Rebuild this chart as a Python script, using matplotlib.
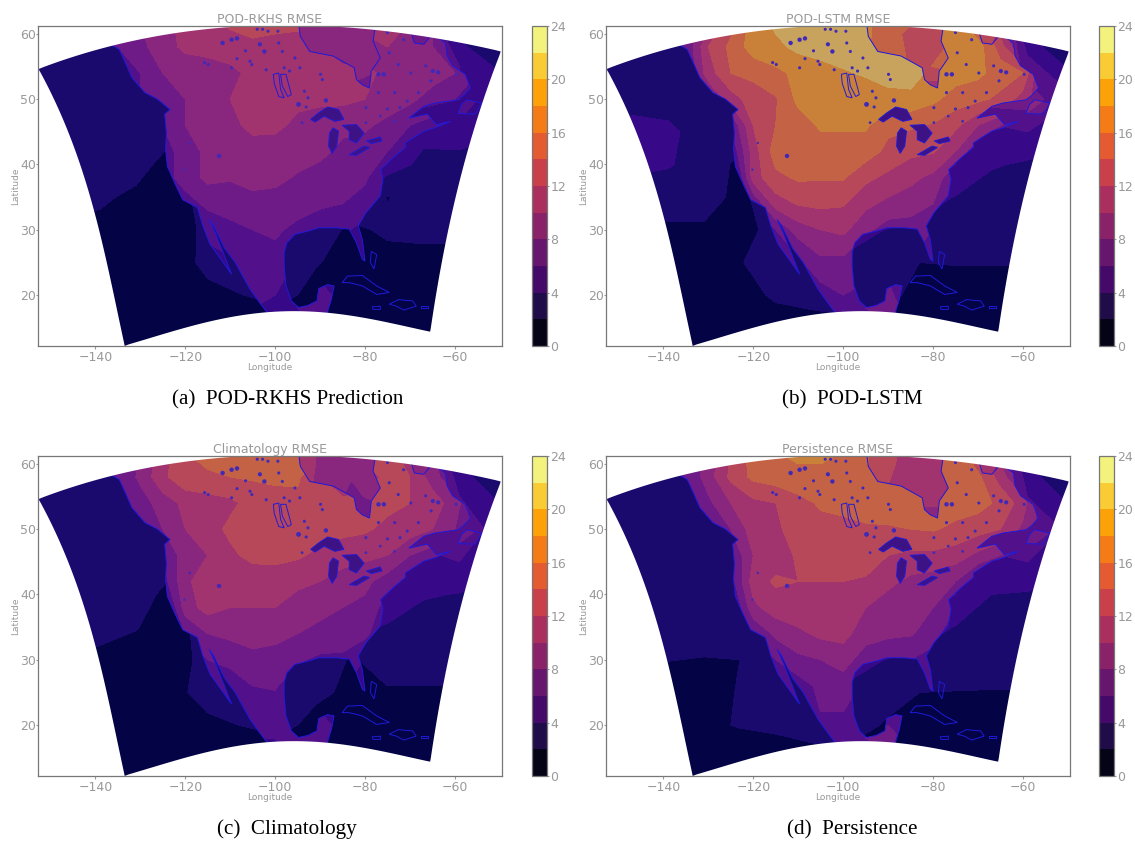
import numpy as np
import matplotlib
matplotlib.use("Agg")
import matplotlib.pyplot as plt
from matplotlib.path import Path
from matplotlib.patches import PathPatch, Polygon
from matplotlib.colors import BoundaryNorm, ListedColormap
from matplotlib.cm import ScalarMappable

TITLES = ["POD-RKHS RMSE", "POD-LSTM RMSE", "Climatology RMSE", "Persistence RMSE"]
CAPTIONS = ["(a)  POD-RKHS Prediction", "(b)  POD-LSTM", "(c)  Climatology", "(d)  Persistence"]
LEVELS = list(range(0, 26, 2))
CBAR_TICKS = [0, 4, 8, 12, 16, 20, 24]
X_TICKS = [-140, -120, -100, -80, -60]
Y_TICKS = [20, 30, 40, 50, 60]

LAND_LON = [-140,-135,-130,-125,-120,-115,-110,-105,-100,-95,-90,-85,-80,-75,-70,-65,-60,-55,-50]
LAND_LAT = [62,58,54,50,46,42,38,34,30,26,22,18,14]
WATER_LON = [-155,-147,-139,-131,-123,-115,-107,-99,-91,-83,-75,-67,-59,-48]
WATER_LAT = [65,60,55,50,45,40,35,30,25,20,15,10]

RKHS_LAND = [
 [9,9,10,11,13,13.5,14.5,15,15,15,15,11,13,12.5,12,10,8,6,4],
 [8,8,9.5,11,12.5,13,13,13.5,13,12.5,12,11,11,12,11.5,10,8,5,3],
 [8,8,8,10,10.5,10.5,11.5,12.5,12.5,12.5,12.5,12.5,12.5,11.5,11,11,10,8,4],
 [7,7,8,9,10,10.5,12,13,13,12.5,12.5,12.5,12,11,10.5,9,8,6,4],
 [6,6,7,8,10,10.5,11.5,12.5,12.5,11.5,10.8,10.5,10.3,9.5,8,7.5,6,4,4],
 [5,5,6,7,9,10.5,10.5,11.2,11,10.8,10.5,9.5,9.2,8,6,4.5,4,4,4],
 [5,5,5,7,9,10.5,10.2,10.8,10.5,9.8,9.2,8.8,8.2,6.5,5,4,4,4,4],
 [5,5,5,5,7,8.5,8.8,9.2,9.2,8.8,8.4,8,7.5,5,5,4,4,4,4],
 [5,5,5,5,6,6.5,7.5,8,8.3,7.5,6.5,6.5,5,5,4,4,4,4,4],
 [5,5,5,5,5,5.5,6,7,7.5,6,6,5,5,5,4,4,4,4,4],
 [5,5,5,5,5,5,5.5,6.5,6.5,5,6,6,5,4,4,4,4,4,4],
 [5,5,5,5,5,5,5.5,6,5.5,6,7,6,5,4,4,4,4,4,4],
 [5,5,5,5,5,5,5,5,5,5,6,5,5,4,4,4,4,4,4],
]
LSTM_LAND = [
 [9,9,11,15,19,20.5,21,21,21,21,21,17,19,18.5,15.5,12,10,6,4],
 [8,8,14,16.5,19,19.5,20.5,21,21,21,21,20.5,17,19,19,15,9,5,3],
 [8,8,13,16,16.5,17.5,18.5,19,19.8,20.2,20.6,20.8,19.5,19,18.5,17,16,8,4],
 [8,8,10,13,15,15.8,18.5,19,19,19,19.5,19.5,18.5,17,16.5,15.5,13,10,7],
 [6,6,7,8,14,16,17,18.3,18.3,18.3,16.5,16.3,15.8,14.5,12,10,8,5,4],
 [5,5,5,6,13,17,16,17,17,17,15.5,14.5,14.2,12,8,6,5,4,4],
 [5,5,5,3,13,15.5,16.3,16.2,16.2,14.5,13.5,12.5,11.5,8,6,5,4,4,4],
 [5,5,5,5,8,13,14.2,14.5,14.2,12.5,11.5,11,10,6,5,4,4,4,4],
 [5,5,5,5,6,8,11,12,12.5,10.5,9,9,8,6,5,4,4,4,4],
 [5,5,5,5,5,7,8,10,10,8,8,8,8,6,4,4,4,4,4],
 [5,5,5,5,5,6,7,8,9,8,8,7,6,4,4,4,4,4,4],
 [5,5,5,5,5,6,6,7,7,8,9,7,6,4,4,4,4,4,4],
 [5,5,5,5,5,5,6,6,6,7,7,6,5,4,4,4,4,4,4],
]
CLIM_LAND = [
 [9,9,10,13,16,16.5,17,17,17,17,17,13,15,14.5,13,10,8,6,4],
 [8,8,10.5,13.5,15.5,15.8,16,16.2,16.5,16.3,14,12.5,13,14.5,14,11,8,5,3],
 [8,8,9,11,12.5,13,13.5,14.8,15,15.5,15.5,14.5,14.5,14.5,14,13,11,7,4],
 [7,7,8,10,12,13,14.5,15,15,15,14.8,14.5,14.3,13.5,13,12,10,8,6],
 [6,6,6,8,11,12,13.5,14.7,14.7,14.3,13.5,13,12.5,12,10,9,7,5,4],
 [5,5,5,7,11.5,13.3,12.5,12.5,12.8,12.5,12,11,10.5,9,7,5.5,5,4,4],
 [5,5,5,4,11,12.8,12,12,12,11,10.3,10,9.5,7,5,4,4,4,4],
 [5,5,5,5,8,10,10.5,10.7,10.5,10,9.7,9.2,8.5,6,5,4,4,4,4],
 [5,5,5,5,6,8,8.5,9.5,9.3,8.3,7.5,7.5,6,5,4,4,4,4,4],
 [5,5,5,5,5,6,7,8,8.2,6.5,6,6,6,5,4,4,4,4,4],
 [5,5,5,5,5,6,6,7,7,6,6,6,5,4,4,4,4,4,4],
 [5,5,5,5,5,5,6,6,6,6.5,8,6,5,4,4,4,4,4,4],
 [5,5,5,5,5,5,5,5,5,6,6,5,5,4,4,4,4,4,4],
]
PERS_LAND = [
 [9,9,11,14,17,18,19,19,18,17.5,17.5,14,17,17,14,11,9,6,4],
 [8,8,11,14.5,16.5,17,17,17,17,17,16.5,15,16,17,16.5,13,9,5,3],
 [8,8,9.5,12,13.5,14,15.5,16.2,16.5,17,17,17,17,17,16.8,15.5,13,7,4],
 [7,7,8,10,13,13.5,15.2,15.5,15.5,15.7,15.8,16,16.2,15.5,14.8,14,11.5,9,6],
 [6,6,6,8,12,13,14.3,15.2,15.3,15.2,14,13.5,13.5,13,11.5,10,7.5,5,4],
 [5,5,5,7,13,14.3,14,14,14,13.7,12.5,11.5,11,10,7,5.5,5,4,4],
 [5,5,5,5,11.5,13,13.5,14,14,12,11,10.5,10,8,5,4,4,4,4],
 [5,5,5,5,8,10.5,11.5,12.5,12.7,10.8,10.5,10.2,9,6,5,4,4,4,4],
 [5,5,5,5,6,8,9.5,10,10.8,9,7.8,8,7,5,4,4,4,4,4],
 [5,5,5,5,5,6,7,8.5,9,7.5,7,7,7,5,4,4,4,4,4],
 [5,5,5,5,5,6,7,8,8,7,7,7,6,4,4,4,4,4,4],
 [5,5,5,5,5,6,6,7,7,8,9,7,5,4,4,4,4,4,4],
 [5,5,5,5,5,5,6,6,6,7,7,6,5,4,4,4,4,4,4],
]

RKHS_WATER = [
 [3,3,3,3,5,9,9,10,10.5,10.5,10,8,3.5,2.5],
 [3,3,3,3,6,9,9,10.5,11,11,11,9,3.5,3],
 [3,3,3,3,4,7,9,10.5,11,11,10,7,6,3],
 [3,3,3,3,3.3,6,8,10,9,9,7,6.5,6,4.5],
 [3,3,3,3,2.4,5,7,8,7,6,5,4.5,5,4],
 [3,3,3,2.7,1.2,3,5,6,6,5.5,5,3.5,3.2,3],
 [3,2.8,2.3,1.6,0.8,3,5,6,5.5,4,1.9,3,3,3],
 [1.5,1.5,1.5,0.8,0.6,2.6,4,4.5,3.2,1.5,2.4,2.6,2.6,2.6],
 [1,1,1,0.8,0.8,2.6,3.2,3,2.1,1.5,1.2,1.2,1.2,1.2],
 [.8,.8,.8,.8,.8,1.4,2,2.5,1.5,1,1,1,1,1],
 [.8,.8,.8,.8,.8,.8,.8,.8,.8,.8,.8,.8,.8,.8],
 [.8,.8,.8,.8,.8,.8,.8,.8,.8,.8,.8,.8,.8,.8],
]
LSTM_WATER = [
 [3,3,3,3,5,14,19,20,17,17,16,14,4,2.8],
 [3,3,3,3,6,14,19,20,17,15,16,15,4,2.8],
 [3,3,3,3,4.5,12,17,19,17,15.5,17,12,7,3],
 [3,3,3,3,3.2,8,12,14,12,12,10,9,9,6],
 [3,5,4.5,3,2.6,7,10,11,9,8,6,5,6,4.5],
 [3,4.5,4.2,3,1.6,4,6,8,8,7,6,4.2,3.7,3],
 [3,3,2.6,2.6,1.6,3,5,7,7,5,3.9,3,3,3],
 [1.8,1.8,1.8,1.8,1.1,2.8,5,6,4,3.5,3,2.8,2.8,2.8],
 [1,1,1,1,1.9,2.8,3.5,3,2.7,2,2.1,2.1,2.1,2.1],
 [.8,.8,.8,.8,1.2,2.3,2.4,2.8,2.6,1.4,1.1,1,1,1],
 [.8,.8,.8,.8,.8,1,1.5,1.5,1,.8,.8,.8,.8,.8],
 [.8,.8,.8,.8,.8,.8,.8,.8,.8,.8,.8,.8,.8,.8],
]
CLIM_WATER = [
 [3,3,3,3,5,13,16,16,12,11,11,10,4,3],
 [3,3,3,3,6,13,15,15,12,10.5,10.5,11,4,3],
 [3,3,3,3,4,11,14,15,11.5,9.5,11,9,6,3],
 [3,3,3,3,3.2,7,11,13,11,10,8,7.5,7,5],
 [3,3,3,3,2.5,6,9,10,9,7,5.5,5,6,4.8],
 [3,3,3,2.9,1.3,4,6,7,7,6,5.5,4.2,3.9,3],
 [3,3,2.5,2.1,1,3,5,6,6,4.5,3.8,3,3,3],
 [2,2,1.6,1.2,1,2.7,4,5,3.2,1.8,2.8,2.8,2.8,2.8],
 [1,1,1,1,1.6,2.5,3.3,3,2.3,1.7,1.8,1.8,1.8,1.8],
 [.8,.8,.8,.8,.9,1.7,2.05,2.5,1.5,1,1,1,1,1],
 [.8,.8,.8,.8,.8,.8,.8,.8,.8,.8,.8,.8,.8,.8],
 [.8,.8,.8,.8,.8,.8,.8,.8,.8,.8,.8,.8,.8,.8],
]
PERS_WATER = [
 [3,3,3,3,5,14,18,18,15,13,13,12,4,3],
 [3,3,3,3,6,14,18,18,14.5,13,13,13,4,3],
 [3,3,3,3,4,12,16,17,14,12.5,13,11,6,3],
 [3,3,3,3,3.2,8,12,14,12,11,9,8.5,8,5],
 [3,4,3,3,2.7,7,10,10,9,8,6,5,6,4.5],
 [3,4,3,3,2.4,4,6,8,8,7,6,4,3.8,3],
 [3,3,3,3,2.6,3.5,5,7,7,5,3.9,3,3,3],
 [2,2.05,2.05,1.9,2,3,4.5,6,4,3.5,3,3,3,3],
 [1,1,1,1.4,2.1,2.7,3.5,3,2.6,2,1.95,1.9,1.9,1.9],
 [.8,.8,.8,1.7,2.1,2.3,2.6,2.8,1.9,1,1,1,1,1],
 [.8,.8,.8,.8,1,1.2,1.5,1.5,1,.8,.8,.8,.8,.8],
 [.8,.8,.8,.8,.8,.8,.8,.8,.8,.8,.8,.8,.8,.8],
]

TOP_EDGE = [(-152.7,54.6),(-145.2,56.5),(-136.3,58.1),(-127.4,59.5),(-118.5,60.5),(-109.7,61.1),(-100.8,61.3),
 (-91.9,61.2),(-83,61),(-74.2,60.3),(-65.3,59.4),(-57.3,58.5),(-49.8,57.3)]
RIGHT_EDGE = [(-49.8,57.3),(-53.2,50.5),(-56.9,42.8),(-60.1,34.6),(-62.5,26),(-64.1,20.4),(-65.5,14.4)]
BOTTOM_EDGE = [(-65.5,14.4),(-76.6,16),(-84.7,17),(-94.4,17.6),(-101.2,17.4),(-111.3,16.4),(-121,14.7),(-127.4,13.7),(-133.5,12.2)]
LEFT_EDGE = [(-133.5,12.2),(-136,20.4),(-140.2,32.6),(-144.4,41.8),(-148.4,48.9),(-152.7,54.6)]

MAINLAND = [(-137.1,58.6),(-134.7,57.6),(-133.5,55.8),(-131.9,53.3),(-129,51),(-126.2,50),(-123.4,48.4),(-124.6,47.7),
 (-124.2,44.8),(-124.4,42.3),(-124,39.7),(-122.2,36.9),(-120.6,34.6),(-117.3,33.4),(-116.1,30.6),(-114.5,27.8),
 (-112.1,25.5),(-109.7,23.2),(-111.3,26),(-113.3,29.5),(-114.7,31.6),(-113.7,30.6),(-111.3,27.2),(-108.9,25),
 (-105.6,20.9),(-103.2,18.6),(-101.2,16.8),(-94.4,16.3),(-88.3,16.3),(-88.3,17.55),(-87.5,19.3),(-86.9,21.4),
 (-88.3,21.6),(-90.3,21),(-90.7,19.1),(-92.7,18.4),(-94.8,18.1),(-96.4,19.1),(-97.6,21.4),(-98,24.4),(-98,26.5),
 (-97.4,28),(-95.6,29.3),(-92.7,29.8),(-90.3,30.3),(-86.3,30.3),(-83.5,30.1),(-81.9,28),(-80.6,25.5),(-80,25.2),
 (-80.6,28.5),(-81.5,30.6),(-79.8,32.6),(-76.6,35.2),(-76,37.7),(-76.5,39.2),(-73.8,41),(-71,42.6),(-71,43.3),
 (-66.9,45.1),(-64.5,45.6),(-60.9,46.6),(-64.1,46.1),(-66.1,47.7),(-70.2,47.1),(-66.9,48.9),(-64.5,49.4),
 (-59.3,49.9),(-58.1,50.5),(-56.5,51.7),(-57.7,53.8),(-60.5,55.1),(-61.7,56.6),(-62.1,58.6),(-64.1,59.6),
 (-65.3,59.7),(-66.9,58.4),(-69,58.6),(-69.8,60.3),(-69.8,61.7),(-77.8,61.7),(-77.8,60.7),(-78.2,58.9),
 (-76.6,56.3),(-78.6,54.3),(-79,51.7),(-80.6,52.2),(-81.9,53),(-82.4,54.8),(-87.1,56.6),(-92.3,57.3),
 (-94.4,59.6),(-94.8,61.7),(-137.1,61.7)]
NEWFOUNDLAND = [(-57.3,49.9),(-54,49.4),(-55.5,47.7),(-59.3,47.8),(-58.5,49.2)]

GREAT_LAKES = [
 [(-92.1,46.9),(-90.3,47.9),(-88.3,48.8),(-85.9,48.4),(-84.7,46.9),(-86.7,46.6),(-89.1,47.4),(-91.1,46.5)],
 [(-87.1,45.6),(-85.9,45.1),(-86.3,42.8),(-87.3,41.7),(-88.1,42.8),(-87.9,44.8)],
 [(-85.1,46),(-81.9,46.1),(-80.2,44.8),(-81.9,43.3),(-83.5,43.8),(-83.5,45.1)],
 [(-83.5,41.5),(-80.2,42.8),(-79,42.6),(-81.9,41.4)],
 [(-79.7,43.6),(-76.6,44.2),(-76.2,43.6),(-78.6,43.2)],
]
OUTLINED = [
 [(-100.4,53.8),(-99.2,54),(-98.8,51.5),(-98,50.2),(-99.2,50.4),(-100.2,52.4)],
 [(-98.8,53.8),(-97.6,53.8),(-96.4,50.7),(-97.2,50.4),(-98.4,52)],
 [(-85.1,21.9),(-83.9,22.9),(-80.6,23),(-77.4,21.4),(-74.6,20.4),(-77.4,20.1),(-80.6,21.4),(-83.5,21.9)],
 [(-74.6,18.6),(-72.6,19.3),(-69.4,19.1),(-68.6,18.3),(-71.4,17.7),(-73,18.3)],
 [(-78.4,18.2),(-76.6,18.3),(-76.6,17.8),(-78.2,17.8)],
 [(-67.6,18.4),(-65.9,18.4),(-65.9,18),(-67.6,18)],
 [(-78.6,26.7),(-77.4,26.2),(-78,24),(-78.8,25)],
]
SMALL_LAKE_LON = [-111.7,-109.7,-108.5,-104,-102.8,-101.6,-99.4,-103.4,-102.4,-106.6,-108.5,-109.7,-105.6,-105.2,-115.7,-114.9,-102,-98,-96.8,-94.5,-89.9,-89.5,-93.5,-92.7,-94.8,-93.1,-88.7,-94,-77,-75.8,-74.6,-72.6,-69.8,-66.5,-64.9,-63.7,-65.3,-59.7,-73.4,-77,-79.8,-75,-72.2,-70.6,-68.1,-76.6,-73.4,-79.8,-112.5,-119,-120.2,-99.2,-98.4,-95.6,-71.4,-75]
SMALL_LAKE_LAT = [58.6,59.1,59.3,60.7,60.7,60.4,60.4,58.4,57.3,57.4,56.2,54.8,55.8,55.3,55.6,55.3,54.5,54.8,54.3,54.8,53.8,53,51.2,50.2,49.2,48.8,49.8,46.4,53.8,53.8,57.1,55.3,54,55.1,54.3,54.1,52.8,53.8,51,51,48.7,48.5,48.7,49.7,51,47.4,46.6,46.4,41.3,43.3,39.2,58.6,57.3,56.3,59.1,60.2]
SMALL_LAKE_SIZE = [10,10,10,5,5,5,5,9,10,5,5,5,5,5,5,5,5,5,5,5,5,5,5,5,12,5,10,4,10,10,5,5,5,5,9,9,5,5,5,5,5,5,5,5,5,4,4,4,10,3,3,5,5,5,5,5]

PANELS = [(RKHS_LAND, RKHS_WATER), (LSTM_LAND, LSTM_WATER), (CLIM_LAND, CLIM_WATER), (PERS_LAND, PERS_WATER)]

W, H = 1135, 846
GRAY = "#999999"
COAST = (0.12, 0.1, 0.85)
AX_X = [38, 606, 38, 606]
CB_X = [532, 1099, 532, 1099]
AX_TOP = [26, 26, 456, 456]
CAP_X = [288, 852, 287, 852]
CAP_Y = [399, 399, 829, 829]
AX_W, AX_H, CB_W = 464, 320, 15

colors = [plt.get_cmap("inferno")((LEVELS[i] + 1) / 24) for i in range(len(LEVELS) - 1)]
cmap = ListedColormap(colors)
norm = BoundaryNorm(LEVELS, cmap.N)
# The map's bands are the same colours seen at 80% opacity over pure blue.
map_cmap = ListedColormap([(0.8 * c[0], 0.8 * c[1], 0.8 * c[2] + 0.2) for c in colors])

def closed(points):
    return Path(list(points) + [points[0]], closed=True)

def smooth_h(edge, deg=4):
    e = np.array(edge)
    x = np.linspace(e[0, 0], e[-1, 0], 80)
    y = np.polyval(np.polyfit(e[:, 0], e[:, 1], deg), x)
    y[0], y[-1] = e[0, 1], e[-1, 1]
    return np.column_stack([x, y])

def smooth_v(edge, deg=3):
    e = np.array(edge)
    y = np.linspace(e[0, 1], e[-1, 1], 80)
    x = np.polyval(np.polyfit(e[:, 1], e[:, 0], deg), y)
    x[0], x[-1] = e[0, 0], e[-1, 0]
    return np.column_stack([x, y])

domain = np.vstack([smooth_h(TOP_EDGE), smooth_v(RIGHT_EDGE), smooth_h(BOTTOM_EDGE), smooth_v(LEFT_EDGE)])
domain = [tuple(p) for p in domain]

fig = plt.figure(figsize=(W / 100, H / 100), dpi=100)
for i in range(4):
    ax = fig.add_axes([AX_X[i] / W, 1 - (AX_TOP[i] + AX_H) / H, AX_W / W, AX_H / H])
    ax.set_xlim(-152.8, -49.5)
    ax.set_ylim(12.2, 61.2)
    land, water = PANELS[i]
    land_path = Path.make_compound_path(closed(MAINLAND), closed(NEWFOUNDLAND))

    ax.contourf(WATER_LON, WATER_LAT, np.array(water), levels=LEVELS, cmap=map_cmap, norm=norm, zorder=1.1)
    ax.add_patch(PathPatch(land_path, fc=(0.25, 0.05, 0.55), ec="none", zorder=1.2))
    cl = ax.contourf(LAND_LON, LAND_LAT, np.array(land), levels=LEVELS, cmap=map_cmap, norm=norm, zorder=1.3)
    cl.set_clip_path(land_path, ax.transData)
    ax.add_patch(PathPatch(land_path, fc="none", ec=COAST, lw=0.7, zorder=1.4))
    for lake in GREAT_LAKES:
        ax.add_patch(Polygon(lake, closed=True, fc=(0.24, 0.07, 0.52), ec=COAST, lw=0.7, zorder=1.5))
    for shape in OUTLINED:
        ax.add_patch(Polygon(shape, closed=True, fc="none", ec=COAST, lw=0.7, zorder=1.5))
    ax.scatter(SMALL_LAKE_LON, SMALL_LAKE_LAT, s=SMALL_LAKE_SIZE, c=[(0.25, 0.16, 0.72)], linewidths=0, zorder=1.6)

    xa, xb = ax.get_xlim()
    ya, yb = ax.get_ylim()
    outer = [(xa - 1, ya - 1), (xb + 1, ya - 1), (xb + 1, yb + 1), (xa - 1, yb + 1)]
    mask = Path.make_compound_path(closed(outer), closed(domain))
    ax.add_patch(PathPatch(mask, fc="white", ec="none", zorder=2))

    ax.set_xticks(X_TICKS)
    ax.set_yticks(Y_TICKS)
    ax.tick_params(axis="x", colors=GRAY, labelsize=9, length=2, width=0.8, pad=1.5)
    ax.tick_params(axis="y", colors=GRAY, labelsize=9, length=1.5, width=0.8, pad=0)
    ax.set_xlabel("Longitude", fontsize=6.5, color=GRAY, labelpad=-0.5)
    ax.set_ylabel("Latitude", fontsize=6.5, color=GRAY, labelpad=0)
    ax.set_title(TITLES[i], fontsize=9, color=GRAY, pad=2)
    for sp in ax.spines.values():
        sp.set_color("#777777")
        sp.set_linewidth(0.9)

    cax = fig.add_axes([CB_X[i] / W, 1 - (AX_TOP[i] + AX_H) / H, CB_W / W, AX_H / H])
    cb = fig.colorbar(ScalarMappable(norm=norm, cmap=cmap), cax=cax, ticks=CBAR_TICKS)
    cb.minorticks_off()
    cb.ax.tick_params(colors=GRAY, labelsize=9, length=1.5, width=0.8, pad=1)
    cb.outline.set_edgecolor("#777777")
    cb.outline.set_linewidth(0.9)

    fig.text(CAP_X[i] / W, 1 - CAP_Y[i] / H - 0.0005, CAPTIONS[i], ha="center", va="center",
             fontsize=15.2, family="Liberation Serif", color="black")

fig.savefig("out.png", dpi=100)
